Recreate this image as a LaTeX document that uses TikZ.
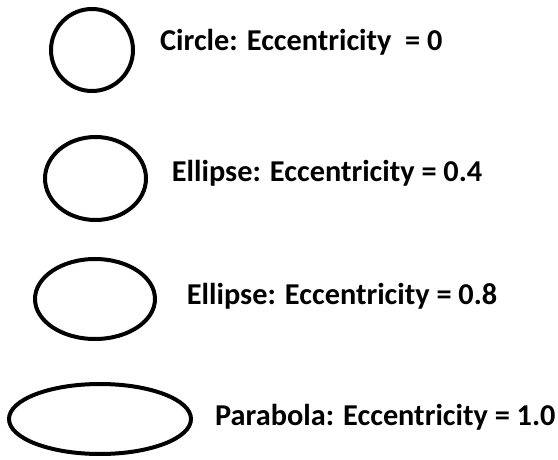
\documentclass[tikz,border=0pt]{standalone}
\usepackage{fontspec}
\setmainfont{Carlito}
\begin{document}
\begin{tikzpicture}[x=1pt,y=-1pt,
  conic/.style={draw=black,line width=4pt},
  lbl/.style={anchor=base west,inner sep=0pt,font=\fontsize{30.3}{35}\selectfont\bfseries}]
\useasboundingbox (0,0) rectangle (558,460);
\draw[conic] (92,50) ellipse [x radius=41,y radius=41];
\draw[conic] (95.5,178.5) ellipse [x radius=50.5,y radius=41.5];
\draw[conic] (95,299) ellipse [x radius=60,y radius=40];
\draw[conic] (100,419) ellipse [x radius=91,y radius=35];
\node[lbl] (t1) at (160,50.7) {Circle: Eccentricity\ \ = 0};
\node[lbl] (t2) at (171.7,181.7) {Ellipse: Eccentricity = 0.4};
\node[lbl] (t3) at (186.7,305) {Ellipse: Eccentricity = 0.8};
\node[lbl] (t4) at (215,425) {Parabola: Eccentricity = 1.0};
\end{tikzpicture}
\end{document}
